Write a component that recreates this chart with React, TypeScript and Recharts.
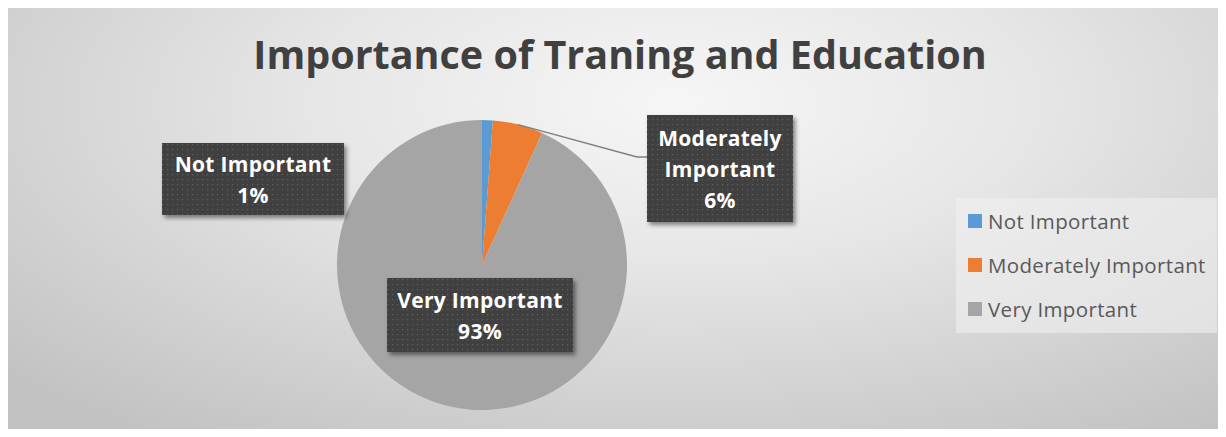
import React from 'react';
import { PieChart, Pie, Cell, Legend } from 'recharts';

// values (percent of respondents)
const categories = ['Not Important', 'Moderately Important', 'Very Important'];
const shares = [1.2, 5.6, 93.2];
const sliceColors = ['#5B9BD5', '#ED7D31', '#A5A5A5'];

const data = categories.map((name, i) => ({ name, value: shares[i] }));

// label boxes, placed relative to the pie centre (like Excel's best fit)
const labelBoxes = [
  { left: -320, top: -122, w: 182, h: 72, wrap: false, leader: false },
  { left: 165, top: -150, w: 146, h: 107, wrap: true, leader: true },
  { left: -95, top: 13, w: 186, h: 74, wrap: false, leader: false },
];

const FONT = "'Open Sans', 'Noto Sans', sans-serif";
const RADIAN = Math.PI / 180;

const renderLabel = (props: any) => {
  const { cx, cy, midAngle, outerRadius, percent, name, index } = props;
  const box = labelBoxes[index];
  const x = cx + box.left;
  const y = cy + box.top;
  const lines: string[] = box.wrap ? String(name).split(' ') : [String(name)];
  lines.push(`${Math.round(percent * 100)}%`);
  const step = 31;
  const midY = y + box.h / 2;
  const firstY = midY - ((lines.length - 1) * step) / 2;

  let leader = null;
  if (box.leader) {
    const sx = cx + outerRadius * Math.cos(-midAngle * RADIAN);
    const sy = cy + outerRadius * Math.sin(-midAngle * RADIAN);
    const ly = y + 42;
    leader = (
      <polyline
        points={`${sx},${sy} ${x - 10},${ly} ${x},${ly}`}
        fill="none"
        stroke="#7f7f7f"
        strokeWidth={1.3}
      />
    );
  }

  return (
    <g key={`lbl-${index}`}>
      {leader}
      <rect x={x} y={y} width={box.w} height={box.h} fill="url(#dots)" filter="url(#boxShadow)" />
      {lines.map((t, i) => (
        <text
          key={i}
          x={x + box.w / 2}
          y={firstY + i * step}
          textAnchor="middle"
          dominantBaseline="central"
          fill="#ffffff"
          fontFamily={FONT}
          fontWeight={700}
          fontSize={21}
          letterSpacing={0.3}
        >
          {t}
        </text>
      ))}
    </g>
  );
};

const renderLegend = (props: any) => {
  const payload = [...(props.payload || [])].sort(
    (a: any, b: any) => categories.indexOf(a.value) - categories.indexOf(b.value)
  );
  return (
    <div
      style={{
        width: 261,
        height: 135,
        background: 'rgba(240,240,240,0.6)',
        paddingTop: 1,
        boxSizing: 'border-box',
      }}
    >
      {payload.map((entry: any, i: number) => (
        <div
          key={i}
          style={{
            height: 44,
            display: 'flex',
            alignItems: 'center',
            paddingLeft: 12,
          }}
        >
          <span
            style={{
              width: 14,
              height: 14,
              background: entry.color,
              marginRight: 6,
              display: 'inline-block',
            }}
          />
          <span style={{ fontFamily: FONT, fontSize: 20.5, letterSpacing: 0.35, color: '#595959' }}>
            {entry.value}
          </span>
        </div>
      ))}
    </div>
  );
};

export default function App() {
  return (
    <div style={{ position: 'relative', width: 1226, height: 437, margin: -8, background: '#ffffff' }}>
      <div
        style={{
          position: 'absolute',
          left: 6,
          top: 7,
          width: 1215,
          height: 426,
          borderTop: '1px solid #d9d9d9',
          background:
            'radial-gradient(ellipse 75% 95% at 55% 22%, #f6f6f6 0%, #e6e6e6 40%, #c2c2c2 100%)',
        }}
      >
        <PieChart width={1215} height={425} margin={{ top: 0, right: 0, bottom: 0, left: 0 }}>
          <defs>
            <pattern id="dots" width="5" height="5" patternUnits="userSpaceOnUse">
              <rect width="5" height="5" fill="#404040" />
              <rect x="1" y="1" width="1.2" height="1.2" fill="#5f5f5f" />
            </pattern>
            <filter id="boxShadow" x="-10%" y="-10%" width="130%" height="140%">
              <feDropShadow dx="2.5" dy="3" stdDeviation="2" floodColor="#000" floodOpacity="0.45" />
            </filter>
          </defs>
          <Pie
            data={data}
            dataKey="value"
            nameKey="name"
            cx={476}
            cy={257}
            outerRadius={145}
            startAngle={90}
            endAngle={-270}
            stroke="none"
            isAnimationActive={false}
            label={renderLabel}
            labelLine={false}
          >
            {data.map((d, i) => (
              <Cell key={d.name} fill={sliceColors[i]} />
            ))}
          </Pie>
          <Legend
            layout="vertical"
            align="right"
            verticalAlign="middle"
            content={renderLegend}
            wrapperStyle={{ left: 950, top: 190, width: 261, right: 'auto', bottom: 'auto' }}
          />
        </PieChart>
      </div>
      <div
        style={{
          position: 'absolute',
          left: 14,
          width: 1212,
          top: 35,
          textAlign: 'center',
          fontFamily: FONT,
          fontWeight: 700,
          fontSize: 39.5,
          lineHeight: '39.5px',
          color: '#404040',
          whiteSpace: 'nowrap',
        }}
      >
        Importance of Traning and Education
      </div>
    </div>
  );
}
